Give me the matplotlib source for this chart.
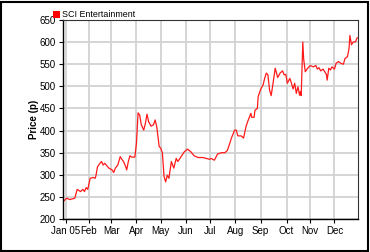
import matplotlib
matplotlib.use("Agg")
import matplotlib.pyplot as plt
from matplotlib.patches import Rectangle
import pandas as pd

# Day offsets from 1 Jan 2005 and closing prices (pence)
days = [0, 4, 8, 14, 17, 21, 24, 26, 28, 30, 33, 37, 39, 40, 42, 45, 47, 49, 51, 56,
        60, 62, 64, 67, 70, 72, 74, 76, 78, 80, 82, 84, 88, 90, 92, 94, 96, 99, 101, 103,
        105, 108, 111, 113, 115, 118, 120, 122, 124, 126, 128, 130, 133, 136, 139, 141, 145, 149, 153, 157,
        161, 166, 172, 176, 180, 182, 186, 190, 195, 199, 202, 205, 207, 211, 213, 215, 219, 222, 225, 227,
        231, 232, 235, 236, 239, 240, 243, 246, 248, 250, 252, 254, 256, 258, 261, 264, 267, 270, 272, 274,
        276, 279, 281, 283, 285, 287, 289, 291, 292, 293, 295, 296, 298, 301, 304, 308, 311, 313, 315, 317,
        320, 322, 324, 325, 327, 329, 331, 334, 336, 339, 342, 345, 347, 350, 352, 353, 355, 357, 360, 362]
prices = [240, 247, 244, 247, 267, 262, 267, 262, 271, 267, 292, 294, 292, 297, 318, 326, 330, 322, 326, 315,
          311, 305, 315, 322, 341, 335, 330, 322, 311, 330, 343, 340, 340, 371, 440, 435, 413, 401, 416, 437,
          420, 410, 413, 424, 409, 364, 360, 349, 296, 284, 299, 292, 330, 315, 337, 330, 341, 352, 358, 352,
          343, 339, 339, 337, 335, 337, 333, 347, 350, 350, 355, 371, 383, 401, 401, 388, 388, 383, 409, 420,
          439, 430, 430, 446, 450, 477, 493, 503, 518, 530, 526, 492, 479, 503, 541, 520, 530, 535, 526, 527,
          507, 518, 507, 494, 507, 484, 499, 480, 488, 479, 600, 563, 533, 541, 547, 544, 547, 539, 542, 535,
          539, 533, 527, 514, 541, 537, 544, 539, 552, 556, 552, 550, 563, 567, 586, 615, 594, 600, 601, 610]

tick_dates = ["2005-01-04", "2005-02-01", "2005-03-01", "2005-04-01", "2005-05-01", "2005-06-01",
              "2005-07-01", "2005-08-01", "2005-09-01", "2005-10-03", "2005-11-01", "2005-12-01"]
tick_labels = ["Jan 05", "Feb", "Mar", "Apr", "May", "Jun", "Jul", "Aug", "Sep", "Oct", "Nov", "Dec"]
y_ticks = [200, 250, 300, 350, 400, 450, 500, 550, 600, 650]
series_name = "SCI Entertainment"

plt.rcParams['font.family'] = ['Liberation Sans', 'DejaVu Sans']

dates = pd.Timestamp("2005-01-01") + pd.to_timedelta(days, unit="D")

fig = plt.figure(figsize=(3.7, 2.52), dpi=100)
ax = fig.add_axes([63/370, 1-219/252, (358-63)/370, (219-20)/252])

ax.plot(dates, prices, color="#ff1a1a", lw=0.9)

ax.set_xlim(pd.Timestamp("2004-12-31 12:00"), pd.Timestamp("2005-12-30"))
ax.set_ylim(200, 650)
ax.set_yticks(y_ticks)
ax.set_xticks(pd.to_datetime(tick_dates))
ax.set_xticklabels(tick_labels)
ax.tick_params(axis="both", labelsize=7, length=3, width=0.8, pad=2, color="black")
ax.grid(True, color="#d2d2d2", lw=1.3)
ax.set_axisbelow(True)
for s in ["top", "right"]:
    ax.spines[s].set_color("#333333")
    ax.spines[s].set_linewidth(0.8)
for s in ["left", "bottom"]:
    ax.spines[s].set_color("black")
    ax.spines[s].set_linewidth(1.0)

ax.set_ylabel("Price (p)", fontsize=7, fontweight="bold", labelpad=0.5)

# legend
fig.patches.append(Rectangle((53/370, 1-17.5/252), 6.5/370, 6.5/252, transform=fig.transFigure,
                             facecolor="#ff0000", edgecolor="none"))
fig.text(62.5/370, 1-14.5/252, series_name, fontsize=6.4, va="center", ha="left")

# figure border
fig.patches.append(Rectangle((1/370, 1/252), 367/370, 249/252, transform=fig.transFigure,
                             facecolor="none", edgecolor="black", lw=1.5))

fig.savefig("out.png", dpi=100)
